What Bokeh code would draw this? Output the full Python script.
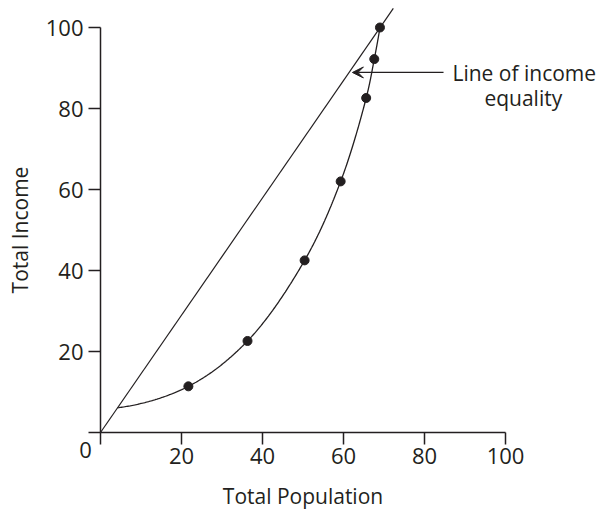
import numpy as np
from bokeh.plotting import figure
from bokeh.models import FixedTicker, Label, Arrow, VeeHead, Range1d, LinearAxis
from bokeh.embed import file_html
from bokeh.resources import INLINE

# ---- data ----
population = [21.7, 36.3, 50.4, 59.3, 65.6, 67.6, 69.0]
income = [11.4, 22.6, 42.5, 62.0, 82.6, 92.2, 100.0]
curve_start_x = [4.2]
curve_start_y = [6.1]
equality_x = [0, 72.3]
equality_y = [0, 104.7]
tick_values = [0, 20, 40, 60, 80, 100]
arrow_x = [84.7, 62.2]
arrow_y = [88.9, 88.9]
note_lines = ["Line of income", "equality"]
note_x = [86.9, 104.4]

INK = "#231f20"
FONT = "Open Sans"
W, H = 599, 513
PX = 4.05          # pixels per data unit on both axes
X0, Y0 = 100, 432  # page position of the origin


def catmull_rom(xs, ys, n=60):
    P = np.column_stack([xs, ys]).astype(float)
    # quadratic end extrapolation so the ends follow the curvature
    P = np.vstack([3 * P[0] - 3 * P[1] + P[2], P, 3 * P[-1] - 3 * P[-2] + P[-3]])
    out = []
    for i in range(1, len(P) - 2):
        p0, p1, p2, p3 = P[i - 1], P[i], P[i + 1], P[i + 2]
        def tj(ti, a, b):
            return ti + np.linalg.norm(b - a) ** 0.5
        t0 = 0.0
        t1 = tj(t0, p0, p1)
        t2 = tj(t1, p1, p2)
        t3 = tj(t2, p2, p3)
        t = np.linspace(t1, t2, n)[:, None]
        A1 = (t1 - t) / (t1 - t0) * p0 + (t - t0) / (t1 - t0) * p1
        A2 = (t2 - t) / (t2 - t1) * p1 + (t - t1) / (t2 - t1) * p2
        A3 = (t3 - t) / (t3 - t2) * p2 + (t - t2) / (t3 - t2) * p3
        B1 = (t2 - t) / (t2 - t0) * A1 + (t - t0) / (t2 - t0) * A2
        B2 = (t3 - t) / (t3 - t1) * A2 + (t - t1) / (t3 - t1) * A3
        C = (t2 - t) / (t2 - t1) * B1 + (t - t1) / (t2 - t1) * B2
        out.append(C if i == 1 else C[1:])
    C = np.vstack(out)
    return C[:, 0], C[:, 1]


cx, cy = catmull_rom(curve_start_x + population, curve_start_y + income)

p = figure(
    output_backend="svg", toolbar_location=None,
    width=W, height=H,
    x_range=Range1d(-X0 / PX, (W - X0) / PX),
    y_range=Range1d(-(H - Y0) / PX, Y0 / PX),
    x_axis_type=None, y_axis_type=None,
    min_border=0,
)
p.outline_line_color = None
p.grid.visible = False
p.background_fill_color = "white"
p.border_fill_color = "white"

p.line(equality_x, equality_y, line_color=INK, line_width=1.2)
p.line(cx, cy, line_color=INK, line_width=1.3)
p.scatter(population, income, size=9, fill_color=INK, line_color=INK)

xax = LinearAxis(fixed_location=0, axis_label="Total Population")
yax = LinearAxis(fixed_location=0, axis_label="Total Income")
for ax in (xax, yax):
    ax.ticker = FixedTicker(ticks=tick_values)
    ax.major_label_overrides = {0: ""}
    ax.bounds = (0, 100)
    ax.major_tick_out = 12
    ax.major_tick_in = 0
    ax.minor_tick_out = 0
    ax.minor_tick_in = 0
    ax.axis_line_color = INK
    ax.axis_line_width = 1.5
    ax.major_tick_line_color = INK
    ax.major_tick_line_width = 1.5
    ax.major_label_text_font = FONT
    ax.major_label_text_font_size = "22px"
    ax.major_label_text_color = INK
    ax.axis_label_text_font = FONT
    ax.axis_label_text_font_size = "21px"
    ax.axis_label_text_font_style = "normal"
    ax.axis_label_text_color = INK
xax.major_label_standoff = 3
yax.major_label_standoff = 5
xax.axis_label_standoff = 15
yax.axis_label_standoff = 9
p.add_layout(xax, "below")
p.add_layout(yax, "left")

p.add_layout(Label(x=0, y=0, text="0", x_offset=-15, y_offset=-17,
                   text_align="center", text_baseline="middle",
                   text_font=FONT, text_font_size="22px", text_color=INK))

p.add_layout(Arrow(x_start=arrow_x[0], y_start=arrow_y[0], x_end=arrow_x[1], y_end=arrow_y[1],
                   line_color=INK, line_width=1.3,
                   end=VeeHead(size=11, fill_color=INK, line_color=INK, line_width=1)))

p.add_layout(Label(x=note_x[0], y=arrow_y[0], text=note_lines[0], y_offset=-1,
                   text_align="left", text_baseline="middle",
                   text_font=FONT, text_font_size="21px", text_color=INK))
p.add_layout(Label(x=note_x[1], y=arrow_y[0], text=note_lines[1], y_offset=-26,
                   text_align="center", text_baseline="middle",
                   text_font=FONT, text_font_size="21px", text_color=INK))

open("out.html", "w").write(file_html(p, INLINE))
